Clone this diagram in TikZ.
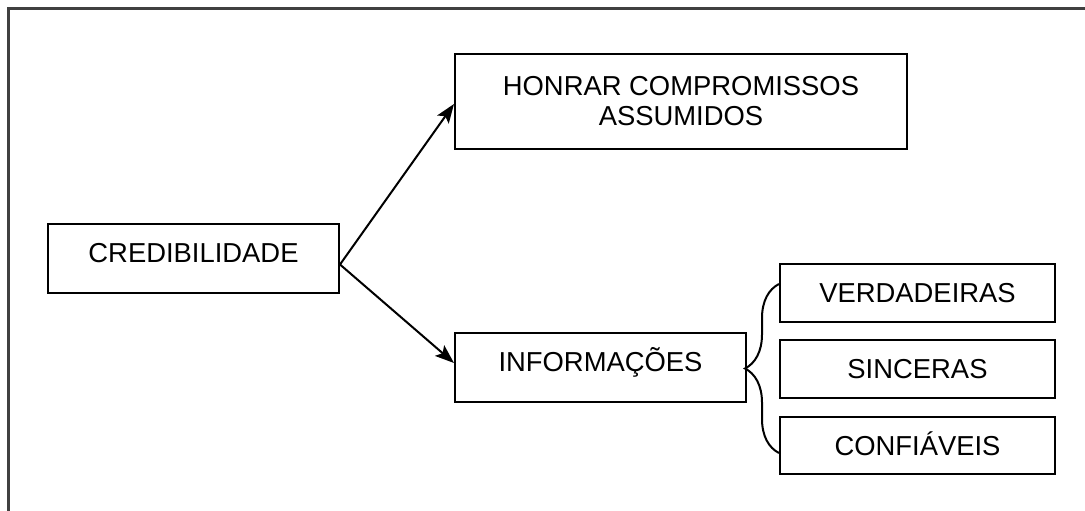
\documentclass[tikz,border=0pt]{standalone}
\usepackage{fontspec}
\setmainfont{Liberation Sans}
\usetikzlibrary{arrows.meta,decorations.pathreplacing}
\tikzset{
  box/.style={draw,rectangle,line width=2pt,anchor=north west,inner sep=0pt,
    font=\fontsize{27.4}{30}\selectfont},
  bigbox/.style={box,minimum width=291pt,minimum height=69pt,text height=20pt,text depth=12pt},
  smallbox/.style={box,minimum width=275pt,minimum height=58pt,text height=19.6pt,text depth=0pt},
  link/.style={line width=2pt,-{Stealth[length=19pt,width=14pt,inset=4pt]}},
  curly/.style={line width=2pt,decorate,decoration={brace,amplitude=34pt}},
  frame/.style={line width=3pt,black!75}
}
\begin{document}
\begin{tikzpicture}[x=1pt,y=-1pt]
\useasboundingbox (0,0) rectangle (1085,511);
\draw[frame] (1085,9)--(8,9)--(8,511);

\node[bigbox] (cred) at (47,223) {CREDIBILIDADE};
\node[box,minimum width=452pt,minimum height=95pt,align=center] (hon) at (454,53) {HONRAR COMPROMISSOS\\ASSUMIDOS};
\node[bigbox] (inf) at (454,332) {INFORMAÇÕES};

\node[smallbox] (ver) at (779,263) {VERDADEIRAS};
\node[smallbox] (sin) at (779,339) {SINCERAS};
\node[smallbox,minimum height=57pt] (conf) at (779,416) {CONFIÁVEIS};

\draw[link] ([yshift=-6pt]cred.east) -- ([yshift=-2.5pt]hon.west);
\draw[link] ([yshift=-6pt]cred.east) -- ([yshift=4.5pt]inf.west);

\draw[curly] ([yshift=-7.5pt]conf.west) -- ([yshift=9pt]ver.west);
\end{tikzpicture}
\end{document}
